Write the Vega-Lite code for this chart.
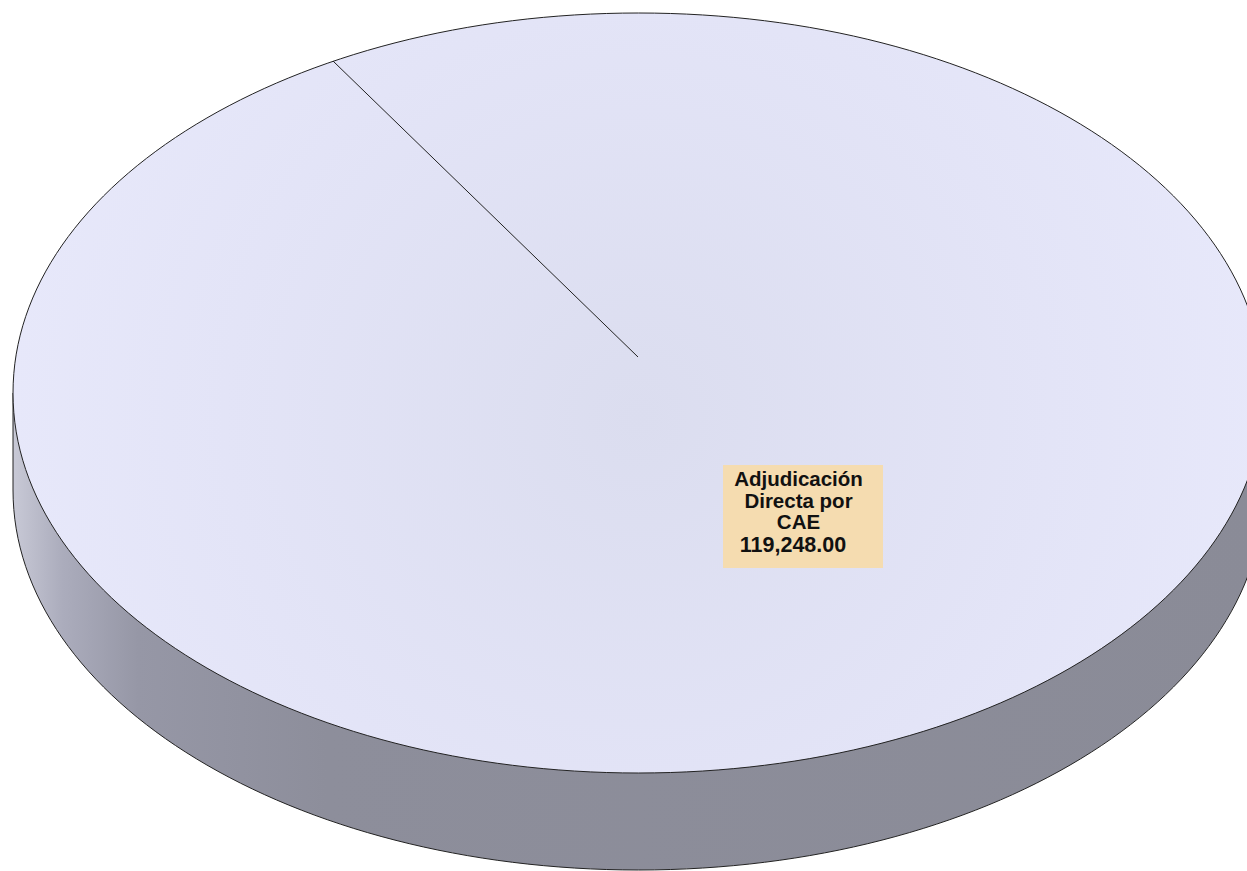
{
  "$schema": "https://vega.github.io/schema/vega-lite/v6.json",
  "width": 1247,
  "height": 871,
  "autosize": "none",
  "padding": 0,
  "background": "white",
  "config": {"view": {"stroke": null}},
  "data": {"values": [{"category": "Adjudicación\nDirecta por\nCAE", "value": 119248}]},
  "layer": [
    {
      "mark": {
        "type": "point",
        "filled": true,
        "opacity": 1,
        "size": 1638400,
        "shape": "M -0.953906 -0.066406 L -0.953906 0.085156 A 0.977344 0.59375 0 0 0 0.023438 0.678906 A 0.977344 0.59375 0 0 0 1.000781 0.085156 L 1.000781 -0.066406 Z",
        "fill": {
          "gradient": "linear",
          "x1": 0, "y1": 0, "x2": 1, "y2": 0,
          "stops": [
            {"offset": 0, "color": "#c8c9d6"},
            {"offset": 0.04, "color": "#abacbc"},
            {"offset": 0.1, "color": "#9697a6"},
            {"offset": 0.25, "color": "#8d8e9b"},
            {"offset": 1, "color": "#8a8b97"}
          ]
        },
        "stroke": "#222222",
        "strokeWidth": 1
      },
      "encoding": {}
    },
    {
      "mark": {
        "type": "point",
        "filled": true,
        "opacity": 1,
        "size": 1638400,
        "shape": "M -0.953906 -0.066406 A 0.977344 0.59375 0 0 1 0.023438 -0.660156 A 0.977344 0.59375 0 0 1 1.000781 -0.066406 A 0.977344 0.59375 0 0 1 0.023438 0.527344 A 0.977344 0.59375 0 0 1 -0.953906 -0.066406 Z M 0.022656 -0.122656 L -0.453906 -0.585156",
        "fill": {
          "gradient": "radial",
          "x1": 0.5, "y1": 0.52, "r1": 0,
          "x2": 0.5, "y2": 0.52, "r2": 0.55,
          "stops": [
            {"offset": 0, "color": "#dbddef"},
            {"offset": 0.6, "color": "#e3e4f7"},
            {"offset": 1, "color": "#e8e9fb"}
          ]
        },
        "stroke": "#222222",
        "strokeWidth": 1
      },
      "encoding": {}
    },
    {
      "mark": {
        "type": "point",
        "filled": true,
        "opacity": 1,
        "size": 1638400,
        "shape": "M 0.155469 0.046094 L 0.405469 0.046094 L 0.405469 0.207031 L 0.155469 0.207031 Z",
        "fill": "#f5dcb0",
        "strokeWidth": 0
      },
      "encoding": {}
    },
    {
      "mark": {
        "type": "text",
        "align": "center",
        "baseline": "alphabetic",
        "dx": 175,
        "dy": 50.5,
        "font": "Liberation Sans",
        "fontWeight": "bold",
        "fontSize": 20.5,
        "lineHeight": 21.6,
        "lineBreak": "\n",
        "color": "#111111"
      },
      "encoding": {"text": {"field": "category", "type": "nominal"}}
    },
    {
      "mark": {
        "type": "text",
        "align": "center",
        "baseline": "alphabetic",
        "dx": 169.5,
        "dy": 116,
        "font": "Liberation Sans",
        "fontWeight": "bold",
        "fontSize": 21.5,
        "color": "#111111"
      },
      "encoding": {"text": {"field": "value", "type": "quantitative", "format": ",.2f"}}
    }
  ]
}
